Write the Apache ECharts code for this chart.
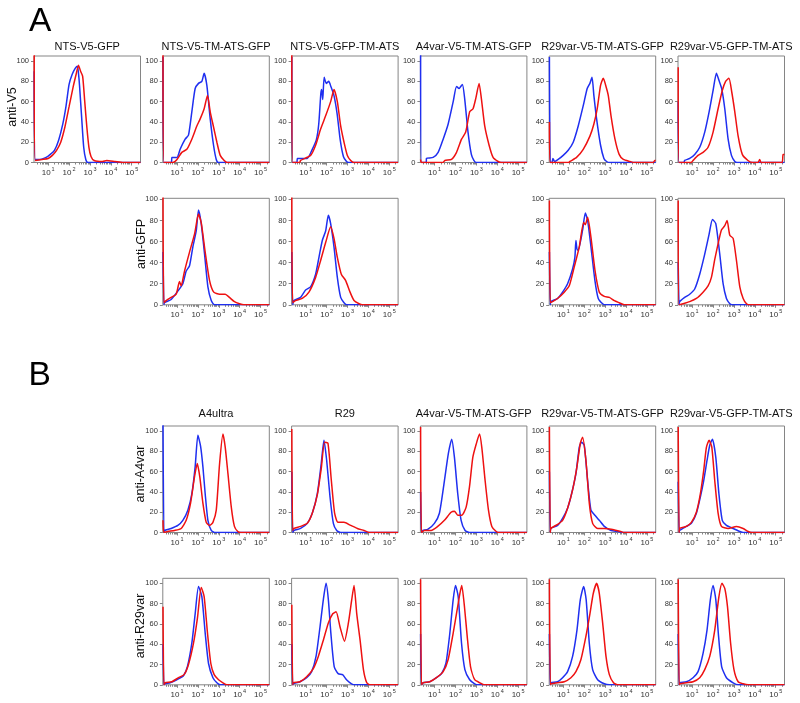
<!DOCTYPE html>
<html><head><meta charset="utf-8">
<script src="https://cdn.jsdelivr.net/npm/echarts@6/dist/echarts.min.js"></script>
<style>html,body{margin:0;padding:0;background:#fff}#c{width:800px;height:703px}</style>
</head><body><div id="c"></div>
<script>
// ---------- DATA (x = log10 fluorescence, y = % of max) ----------
const titlesA = ["NTS-V5-GFP","NTS-V5-TM-ATS-GFP","NTS-V5-GFP-TM-ATS","A4var-V5-TM-ATS-GFP","R29var-V5-TM-ATS-GFP","R29var-V5-GFP-TM-ATS"];
const titlesB = ["A4ultra","R29","A4var-V5-TM-ATS-GFP","R29var-V5-TM-ATS-GFP","R29var-V5-GFP-TM-ATS"];
const rowLabels = ["anti-V5","anti-GFP","anti-A4var","anti-R29var"];
const panelLetters = ["A","B"];
const xTickDecades = [1,2,3,4,5];
const yTicks = [0,20,40,60,80,100];

// Panel A, row anti-V5
const a1c0_blue=[[0.33,90],[0.38,3],[0.6,3],[0.9,5],[1.1,8],[1.3,12],[1.5,22],[1.7,38],[1.85,55],[2.0,77],[2.15,87],[2.3,93],[2.4,95],[2.45,88],[2.5,76],[2.6,45],[2.7,15],[2.8,3],[2.9,0],[5.42,0]];
const a1c0_red=[[0.33,106],[0.38,2],[0.7,3],[1.0,4],[1.2,7],[1.4,12],[1.6,20],[1.8,35],[2.0,55],[2.2,75],[2.35,88],[2.45,96],[2.55,90],[2.65,85],[2.75,60],[2.85,35],[2.95,15],[3.05,6],[3.2,2],[3.6,1],[3.8,2],[4.2,1],[4.6,0],[5.42,0]];
const a1c1_blue=[[0.33,104],[0.37,0],[0.74,0],[0.75,5],[1.0,5],[1.15,13],[1.39,23],[1.55,27],[1.71,50],[1.87,73],[2.03,78],[2.19,80],[2.3,88],[2.43,76],[2.59,43],[2.75,17],[2.88,3],[2.98,0],[5.42,0]];
const a1c1_red=[[0.33,106],[0.37,0],[0.8,0],[1.0,3],[1.23,10],[1.47,13],[1.71,23],[1.95,36],[2.11,43],[2.3,53],[2.46,66],[2.59,50],[2.75,35],[2.91,20],[3.07,7],[3.26,2],[3.4,0],[5.42,0]];
const a1c2_blue=[[0.33,104],[0.37,0],[0.58,0],[0.59,4],[1.07,4],[1.31,13],[1.5,22],[1.62,38],[1.72,68],[1.76,72],[1.81,62],[1.88,84],[1.98,78],[2.1,80],[2.2,75],[2.35,66],[2.5,48],[2.65,22],[2.8,6],[2.95,1],[3.05,0],[5.42,0]];
const a1c2_red=[[0.33,106],[0.37,0],[0.7,0],[0.75,2],[1.23,7],[1.47,17],[1.71,33],[1.95,46],[2.19,60],[2.35,72],[2.51,60],[2.67,36],[2.83,20],[2.99,7],[3.15,2],[3.3,0],[5.42,0]];
const a1c3_blue=[[0.33,106],[0.37,0],[0.6,0],[0.61,4],[0.93,5],[1.17,10],[1.41,23],[1.65,38],[1.89,60],[2.05,75],[2.17,73],[2.33,77],[2.44,63],[2.6,30],[2.76,8],[2.88,2],[2.98,0],[5.42,0]];
const a1c3_red=[[0.33,3],[0.37,0],[1.4,0],[1.49,2],[1.81,3],[2.05,10],[2.29,23],[2.49,30],[2.68,50],[2.84,53],[2.97,63],[3.13,78],[3.24,63],[3.4,36],[3.61,17],[3.8,5],[4.04,1],[4.2,0],[5.42,0]];
const a1c4_blue=[[0.33,104],[0.37,0],[0.45,0],[0.5,4],[0.58,1],[0.75,3],[0.99,7],[1.23,12],[1.47,20],[1.71,36],[1.95,56],[2.14,73],[2.27,78],[2.37,84],[2.46,66],[2.59,43],[2.78,17],[2.94,4],[3.07,1],[3.2,0],[5.42,0]];
const a1c4_red=[[0.33,40],[0.37,0],[1.25,0],[1.31,1],[1.63,5],[1.95,13],[2.27,26],[2.46,38],[2.62,53],[2.78,76],[2.91,83],[3.04,75],[3.15,66],[3.28,46],[3.47,23],[3.67,8],[3.87,3],[4.19,1],[4.4,0],[5.3,0],[5.38,2],[5.42,2]];
const a1c5_blue=[[0.33,60],[0.37,0],[0.6,0],[0.64,2],[0.88,4],[1.12,8],[1.36,15],[1.6,30],[1.81,50],[2.0,71],[2.16,88],[2.28,81],[2.41,73],[2.56,53],[2.72,23],[2.88,7],[3.04,1],[3.15,0],[5.42,0]];
const a1c5_red=[[0.33,94],[0.37,0],[0.95,0],[1.04,2],[1.28,7],[1.52,10],[1.76,15],[2.0,30],[2.24,53],[2.44,71],[2.6,80],[2.76,83],[2.89,70],[3.04,50],[3.2,26],[3.4,8],[3.67,2],[3.9,0],[4.15,0],[4.23,3],[4.3,0],[5.3,0],[5.35,8],[5.42,8]];
// Panel A, row anti-GFP
const a2c1_blue=[[0.33,50],[0.37,0],[0.4,2],[0.72,5],[1.04,13],[1.28,20],[1.44,32],[1.6,37],[1.76,55],[1.92,70],[2.03,90],[2.16,77],[2.32,48],[2.48,17],[2.64,4],[2.8,0],[5.42,0]];
const a2c1_red=[[0.33,104],[0.37,2],[0.48,4],[0.72,7],[0.96,10],[1.12,22],[1.2,18],[1.36,32],[1.6,50],[1.84,67],[2.03,86],[2.16,78],[2.35,50],[2.56,23],[2.76,12],[3.04,10],[3.31,10],[3.51,7],[3.75,3],[3.99,1],[4.2,0],[5.42,0]];
const a2c2_blue=[[0.33,50],[0.37,0],[0.43,4],[0.75,7],[0.99,14],[1.23,17],[1.47,29],[1.63,45],[1.79,61],[1.95,70],[2.08,85],[2.19,77],[2.35,55],[2.51,26],[2.67,7],[2.83,2],[2.95,0],[5.42,0]];
const a2c2_red=[[0.33,104],[0.37,2],[0.51,4],[0.83,6],[1.15,12],[1.47,26],[1.71,42],[1.95,59],[2.19,74],[2.35,63],[2.51,45],[2.7,29],[2.91,23],[3.12,12],[3.31,4],[3.55,1],[3.7,0],[5.42,0]];
const a2c4_blue=[[0.33,50],[0.37,0],[0.4,3],[0.72,6],[0.96,12],[1.2,20],[1.44,34],[1.55,45],[1.6,61],[1.66,52],[1.71,52],[1.92,71],[2.05,87],[2.16,80],[2.32,55],[2.51,23],[2.67,6],[2.88,1],[3.0,0],[5.42,0]];
const a2c4_red=[[0.33,99],[0.37,2],[0.48,3],[0.72,6],[1.04,12],[1.28,18],[1.52,36],[1.76,55],[1.97,78],[2.05,76],[2.16,83],[2.32,64],[2.51,33],[2.72,12],[2.96,8],[3.2,7],[3.44,4],[3.67,2],[3.91,0],[5.42,0]];
const a2c5_blue=[[0.33,40],[0.37,0],[0.4,3],[0.64,7],[0.88,10],[1.12,15],[1.36,29],[1.6,48],[1.81,67],[1.97,81],[2.13,77],[2.32,48],[2.48,20],[2.64,6],[2.8,1],[2.9,0],[5.42,0]];
const a2c5_red=[[0.33,99],[0.37,0],[0.56,1],[0.88,3],[1.2,6],[1.52,12],[1.76,18],[1.92,26],[2.08,43],[2.24,58],[2.4,71],[2.56,75],[2.67,80],[2.8,66],[2.96,63],[3.12,42],[3.28,17],[3.44,6],[3.6,1],[3.75,0],[5.42,0]];
// Panel B, row anti-A4var
const b1c1_blue=[[0.33,106],[0.37,0],[0.4,2],[0.72,4],[1.04,7],[1.28,12],[1.52,22],[1.71,38],[1.87,65],[2.0,96],[2.13,85],[2.24,65],[2.35,38],[2.48,12],[2.64,2],[2.8,0],[5.42,0]];
const b1c1_red=[[0.33,12],[0.37,0],[0.56,1],[0.88,2],[1.2,4],[1.44,12],[1.65,29],[1.84,55],[1.97,68],[2.09,55],[2.24,29],[2.4,10],[2.56,7],[2.72,10],[2.88,22],[3.04,68],[3.2,97],[3.31,84],[3.44,58],[3.6,25],[3.75,6],[3.91,1],[4.05,0],[5.42,0]];
const b1c2_blue=[[0.33,60],[0.37,0],[0.43,2],[0.75,4],[1.07,9],[1.31,19],[1.55,38],[1.74,68],[1.87,91],[2.0,71],[2.16,35],[2.32,9],[2.48,2],[2.67,0],[5.42,0]];
const b1c2_red=[[0.33,102],[0.37,2],[0.43,4],[0.75,6],[1.07,9],[1.31,19],[1.55,37],[1.74,63],[1.9,89],[2.06,88],[2.22,52],[2.38,19],[2.54,10],[2.83,10],[3.15,7],[3.47,4],[3.79,2],[4.03,0],[5.42,0]];
const b1c3_blue=[[0.33,40],[0.37,0],[0.43,2],[0.67,3],[0.99,9],[1.23,19],[1.47,51],[1.66,78],[1.82,92],[1.95,74],[2.11,38],[2.27,12],[2.46,2],[2.67,0],[5.42,0]];
const b1c3_red=[[0.33,104],[0.37,0],[0.51,2],[0.83,2],[1.15,6],[1.47,12],[1.79,20],[1.95,21],[2.11,17],[2.3,17],[2.51,25],[2.67,45],[2.83,74],[2.99,87],[3.15,97],[3.26,84],[3.42,51],[3.58,22],[3.74,6],[3.95,1],[4.1,0],[5.42,0]];
const b1c4_blue=[[0.33,60],[0.37,0],[0.4,4],[0.72,7],[0.96,14],[1.2,24],[1.39,38],[1.6,58],[1.76,84],[1.87,89],[2.0,86],[2.16,51],[2.32,22],[2.51,17],[2.72,12],[2.96,6],[3.28,2],[3.6,1],[3.8,0],[5.42,0]];
const b1c4_red=[[0.33,104],[0.37,0],[0.4,4],[0.72,8],[0.96,12],[1.2,24],[1.44,42],[1.65,65],[1.81,88],[1.92,94],[2.08,71],[2.24,29],[2.4,9],[2.64,4],[2.96,4],[3.36,3],[3.75,1],[3.91,0],[5.42,0]];
const b1c5_blue=[[0.33,50],[0.37,0],[0.4,2],[0.72,6],[0.96,9],[1.2,19],[1.39,35],[1.55,51],[1.71,71],[1.84,86],[1.97,92],[2.13,74],[2.28,38],[2.44,12],[2.64,7],[2.96,4],[3.28,1],[3.45,0],[5.42,0]];
const b1c5_red=[[0.33,104],[0.37,0],[0.4,4],[0.72,6],[0.96,10],[1.2,20],[1.39,38],[1.55,61],[1.68,84],[1.81,91],[1.94,84],[2.08,51],[2.24,19],[2.4,6],[2.72,4],[3.12,6],[3.44,4],[3.68,1],[3.85,0],[5.42,0]];
// Panel B, row anti-R29var
const b2c1_blue=[[0.33,40],[0.37,0],[0.43,1],[0.67,2],[0.99,5],[1.31,9],[1.5,18],[1.71,41],[1.87,70],[2.03,97],[2.19,87],[2.35,51],[2.51,21],[2.72,7],[2.91,2],[3.07,0],[5.42,0]];
const b2c1_red=[[0.33,77],[0.37,0],[0.43,2],[0.75,3],[1.07,7],[1.34,10],[1.55,20],[1.79,41],[1.98,66],[2.16,96],[2.3,87],[2.46,51],[2.62,21],[2.78,10],[2.99,5],[3.2,2],[3.39,0],[5.42,0]];
const b2c2_blue=[[0.33,40],[0.37,0],[0.4,1],[0.72,3],[1.04,7],[1.28,13],[1.49,28],[1.68,57],[1.84,84],[1.97,100],[2.08,84],[2.2,51],[2.36,18],[2.55,11],[2.76,10],[2.95,5],[3.19,1],[3.35,0],[5.42,0]];
const b2c2_red=[[0.33,79],[0.37,0],[0.4,2],[0.72,3],[1.04,8],[1.36,16],[1.6,28],[1.84,44],[2.08,61],[2.29,70],[2.45,72],[2.64,57],[2.85,43],[3.04,61],[3.2,84],[3.31,98],[3.44,70],[3.6,44],[3.76,15],[3.92,2],[4.08,0],[5.42,0]];
const b2c3_blue=[[0.33,50],[0.37,0],[0.45,2],[0.77,3],[1.09,7],[1.33,11],[1.54,21],[1.73,51],[1.89,84],[2.0,98],[2.13,87],[2.29,41],[2.45,15],[2.68,5],[2.92,1],[3.08,0],[5.42,0]];
const b2c3_red=[[0.33,104],[0.37,0],[0.45,2],[0.77,3],[1.09,7],[1.41,13],[1.65,25],[1.89,51],[2.08,74],[2.21,90],[2.3,98],[2.43,77],[2.56,48],[2.72,18],[2.92,5],[3.16,2],[3.4,0],[5.42,0]];
const b2c4_blue=[[0.33,50],[0.37,0],[0.4,2],[0.72,3],[0.96,7],[1.2,13],[1.44,28],[1.65,54],[1.81,84],[1.97,97],[2.09,84],[2.24,41],[2.4,15],[2.64,5],[2.96,1],[3.2,0],[5.42,0]];
const b2c4_red=[[0.33,104],[0.37,0],[0.4,1],[0.72,2],[1.04,3],[1.36,7],[1.6,13],[1.84,25],[2.08,48],[2.27,70],[2.43,90],[2.59,100],[2.72,90],[2.88,61],[3.04,28],[3.2,10],[3.4,2],[3.59,0],[5.42,0]];
const b2c5_blue=[[0.33,50],[0.37,0],[0.4,2],[0.72,3],[1.04,7],[1.28,13],[1.52,31],[1.71,54],[1.87,84],[2.0,98],[2.13,84],[2.25,51],[2.41,18],[2.64,7],[2.96,2],[3.2,0],[5.42,0]];
const b2c5_red=[[0.33,104],[0.37,0],[0.4,1],[0.72,2],[1.04,3],[1.36,7],[1.6,15],[1.84,28],[2.08,54],[2.28,87],[2.43,100],[2.56,95],[2.69,77],[2.84,41],[3.0,15],[3.2,3],[3.44,1],[3.68,0],[5.42,0]];

// ---------- LAYOUT ----------
const FONT = 'Liberation Sans, Arial, Helvetica, sans-serif';
const colLeft = c => 34 + c * 128.8;
const rowTop = [56, 198.3, 426, 578.3];
const rowYMax = [105, 101, 105, 105];
const PW = 106.5, PH = 106.5;
const XMIN = 0.32, XMAX = 5.42;
const BLUE = '#1f2ff0', RED = '#ee1111', FRAME = '#858585', TXT = '#333';

const plots = [
  {r:0,c:0,b:a1c0_blue,d:a1c0_red},{r:0,c:1,b:a1c1_blue,d:a1c1_red},{r:0,c:2,b:a1c2_blue,d:a1c2_red},
  {r:0,c:3,b:a1c3_blue,d:a1c3_red},{r:0,c:4,b:a1c4_blue,d:a1c4_red},{r:0,c:5,b:a1c5_blue,d:a1c5_red},
  {r:1,c:1,b:a2c1_blue,d:a2c1_red},{r:1,c:2,b:a2c2_blue,d:a2c2_red},{r:1,c:4,b:a2c4_blue,d:a2c4_red},{r:1,c:5,b:a2c5_blue,d:a2c5_red},
  {r:2,c:1,b:b1c1_blue,d:b1c1_red},{r:2,c:2,b:b1c2_blue,d:b1c2_red},{r:2,c:3,b:b1c3_blue,d:b1c3_red},{r:2,c:4,b:b1c4_blue,d:b1c4_red},{r:2,c:5,b:b1c5_blue,d:b1c5_red},
  {r:3,c:1,b:b2c1_blue,d:b2c1_red},{r:3,c:2,b:b2c2_blue,d:b2c2_red},{r:3,c:3,b:b2c3_blue,d:b2c3_red},{r:3,c:4,b:b2c4_blue,d:b2c4_red},{r:3,c:5,b:b2c5_blue,d:b2c5_red}
];

const minorTicks = [];
for (let n = 0; n <= 5; n++) for (let k = 2; k <= 9; k++) {
  const v = Math.log10(k) + n; if (v > XMIN && v < XMAX) minorTicks.push(v);
}

const grid = [], xAxis = [], yAxis = [], series = [];
plots.forEach((p, i) => {
  grid.push({left: colLeft(p.c), top: rowTop[p.r], width: PW, height: PH, show: true,
    borderColor: FRAME, borderWidth: 1, backgroundColor: 'transparent', containLabel: false});
  xAxis.push({type:'value', gridIndex:i, position:'bottom', min:XMIN, max:XMAX, splitLine:{show:false},
    axisLine:{show:false},
    axisTick:{show:true, customValues:xTickDecades, length:3, lineStyle:{color:FRAME, width:1}},
    axisLabel:{show:true, customValues:xTickDecades, margin:4, color:TXT,
      formatter: v => '{b|10}{s|' + Math.round(v) + '}',
      rich:{ b:{fontSize:8, fontFamily:FONT, color:TXT, lineHeight:10, verticalAlign:'bottom'},
             s:{fontSize:5.5, fontFamily:FONT, color:TXT, lineHeight:6, verticalAlign:'top', padding:[0,0,0,1]} }}});
  xAxis.push({type:'value', gridIndex:i, position:'bottom', offset:0, min:XMIN, max:XMAX, splitLine:{show:false},
    axisLine:{show:false}, axisLabel:{show:false},
    axisTick:{show:true, customValues:minorTicks, length:2, lineStyle:{color:FRAME, width:1}}});
  yAxis.push({type:'value', gridIndex:i, min:0, max:rowYMax[p.r], splitLine:{show:false},
    axisLine:{show:false},
    axisTick:{show:true, customValues:yTicks, length:3, lineStyle:{color:FRAME, width:1}},
    axisLabel:{show:true, customValues:yTicks, margin:5, fontSize:7.5, fontFamily:FONT, color:TXT}});
  series.push({type:'line', xAxisIndex:2*i, yAxisIndex:i, data:p.b, symbol:'none', showSymbol:false, smooth:0.2,
    lineStyle:{color:BLUE, width:1.5}, itemStyle:{color:BLUE}, silent:true, z:2});
  series.push({type:'line', xAxisIndex:2*i, yAxisIndex:i, data:p.d, symbol:'none', showSymbol:false, smooth:0.2,
    lineStyle:{color:RED, width:1.5}, itemStyle:{color:RED}, silent:true, z:3});
});

const graphic = [];
titlesA.forEach((t, c) => graphic.push({type:'text', x: colLeft(c) + PW/2, y: 46.7,
  style:{text:t, font:'11px ' + FONT, fill:'#111', textAlign:'center', textVerticalAlign:'middle'}}));
titlesB.forEach((t, j) => graphic.push({type:'text', x: colLeft(j+1) + PW/2, y: 413.8,
  style:{text:t, font:'11px ' + FONT, fill:'#111', textAlign:'center', textVerticalAlign:'middle'}}));
const rowLabelPos = [[13,107],[142,244],[141,474],[141,626]];
rowLabels.forEach((t, r) => graphic.push({type:'text', x: rowLabelPos[r][0], y: rowLabelPos[r][1], rotation: Math.PI/2,
  style:{text:t, font:'12.5px ' + FONT, fill:'#111', textAlign:'center', textVerticalAlign:'middle'}}));
const letterPos = [[29,21.5],[28.5,375.5]];
panelLetters.forEach((t, k) => graphic.push({type:'text', x: letterPos[k][0], y: letterPos[k][1],
  style:{text:t, font:'33.5px ' + FONT, fill:'#000', textAlign:'left', textVerticalAlign:'middle'}}));

const chart = echarts.init(document.getElementById('c'), null, {renderer:'canvas'});
chart.setOption({animation:false, backgroundColor:'#fff', grid, xAxis, yAxis, series, graphic});
</script></body></html>
